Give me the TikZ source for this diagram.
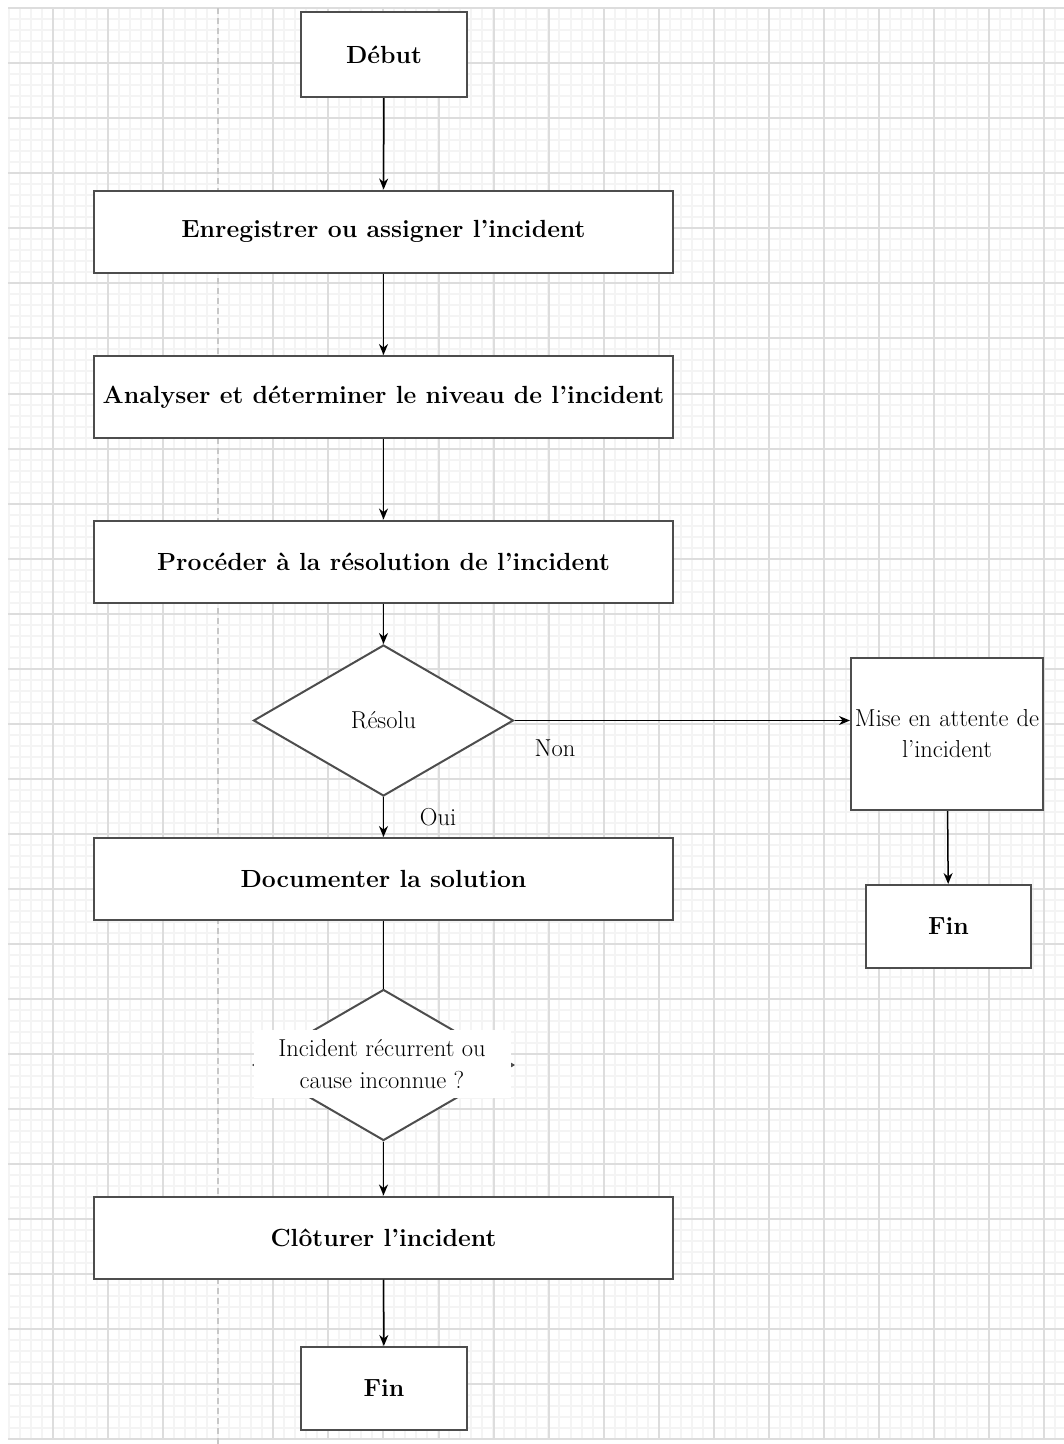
\documentclass[tikz,border=0pt]{standalone}
\usepackage{fontspec}
\usepackage{tikz}
\usetikzlibrary{shapes.geometric,arrows.meta}

\definecolor{gridmajor}{HTML}{DDDDDD}
\definecolor{gridminor}{HTML}{F4F4F4}
\definecolor{gridsplit}{HTML}{C8C8C8}
\definecolor{boxline}{HTML}{4D4D4D}

\begin{document}
\begin{tikzpicture}[x=1pt,y=-1pt,%
% common options for the boxes:
block/.style = {draw=boxline, fill=white, line width=2pt, align=center,
            minimum height=82pt, inner sep=0, font=\fontsize{24.8}{29}\selectfont\bfseries},
% common options for the decisions:
choice/.style = {diamond, draw=boxline, fill=white, line width=2pt,
            minimum width=260pt, minimum height=151pt, inner sep=0,
            font=\fontsize{24.5}{31}\selectfont},
% common options for the arrows:
flow/.style = {line width=1.5pt, -{Stealth[length=11pt,width=9pt]}},
small/.style = {font=\fontsize{24.5}{31}\selectfont}]
\useasboundingbox (0,0) rectangle (1064,1444);
% grid paper
\foreach \i in {0,...,129}
  \draw[gridminor, line width=2pt] (8,{round(8.3+11.006*\i)}) -- (1064,{round(8.3+11.006*\i)});
\foreach \i in {0,...,95}
  \draw[gridminor, line width=2pt] ({round(9.2+11.006*\i)},8) -- ({round(9.2+11.006*\i)},1439);
\foreach \i in {0,...,26}
  \draw[gridmajor, line width=2pt] (8,{round(8.3+55.03*\i)}) -- (1064,{round(8.3+55.03*\i)});
\foreach \i in {0,1,2,4,5,...,18}
  \draw[gridmajor, line width=2pt] ({round(53.3+55.03*\i)},8) -- ({round(53.3+55.03*\i)},1439);
\draw[gridsplit, line width=2pt, dash pattern=on 6pt off 4pt] (218,8) -- (218,1444);

\node[block, minimum width=166pt, minimum height=85pt] (debut) at (384,54.5) {Début};
\node[block, minimum width=579pt] (enreg) at (383.5,231.5) {Enregistrer ou assigner l'incident};
\node[block, minimum width=579pt] (analyse) at (383.5,397) {Analyser et déterminer le niveau de l'incident};
\node[block, minimum width=579pt] (resol) at (383.5,561.5) {Procéder à la résolution de l'incident};
\node[choice] (resolu) at (383.5,720.5) {Résolu};
\node[block, minimum width=579pt] (doc) at (383.5,879) {Documenter la solution};
\node[choice] (recur) at (383.5,1065) {};
\node[fill=white, minimum width=257pt, minimum height=68pt, inner sep=0, align=center,
      font=\fontsize{24.5}{32}\selectfont] (recurtxt) at (382,1064) {Incident récurrent ou\\cause inconnue ?};
\node[block, minimum width=579pt] (clot) at (383.5,1237.5) {Clôturer l'incident};
\node[block, minimum width=166pt, minimum height=83pt] (fin) at (384,1388.5) {Fin};
\node[block, minimum width=192pt, minimum height=152pt, font=\fontsize{24.5}{31}\selectfont,
      text width=192pt] (attente) at (947,734) {Mise en attente de\\l'incident};
\node[block, minimum width=165pt, minimum height=83pt] (fin2) at (948.5,926.5) {Fin};
\node[small] (oui) at (438,817) {Oui};
\node[small] (non) at (555,748) {Non};

\draw[flow] (debut) -- (enreg);
\draw[flow] (enreg) -- (analyse);
\draw[flow] (analyse) -- (resol);
\draw[flow] (resol) -- (resolu);
\draw[flow] (resolu) -- (doc);
\draw[flow] (resolu.east) -- (resolu.east -| attente.west);
\draw[flow] (attente) -- (fin2);
\draw[line width=1.5pt] (doc) -- (recur);
\draw[flow] (recur) -- (clot);
\draw[flow] (clot) -- (fin);
\end{tikzpicture}
\end{document}
